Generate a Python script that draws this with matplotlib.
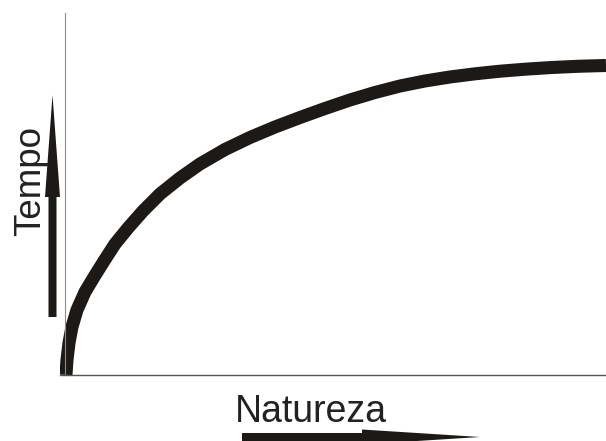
import numpy as np
import matplotlib.pyplot as plt
from matplotlib.patches import FancyArrow

plt.rcParams['font.family'] = ['Liberation Sans', 'DejaVu Sans']

# curve (natureza on x, tempo on y, 0-100 scale)
natureza = [0.18, 0.37, 0.74, 1.29, 2.22, 3.70, 5.36, 7.21, 9.24, 11.65,
            14.42, 17.56, 21.26, 24.95, 29.57, 34.20, 38.82, 43.44, 48.06,
            52.68, 57.30, 61.92, 66.54, 71.16, 75.79, 80.41, 85.03, 89.65,
            94.82, 100.0]
tempo = [0.0, 4.14, 8.84, 13.26, 17.96, 22.93, 27.07, 31.49, 36.19, 40.61,
         45.30, 50.0, 54.42, 58.29, 62.29, 65.61, 68.51, 71.13, 73.62,
         75.97, 78.04, 79.83, 81.22, 82.32, 83.20, 83.92, 84.47, 84.92,
         85.28, 85.50]
x_label = 'Natureza'
y_label = 'Tempo'

W, H = 606, 441
fig = plt.figure(figsize=(W / 100, H / 100), dpi=100)

# overlay in pixel units for labels and arrows
over = fig.add_axes([0, 0, 1, 1])
over.set_xlim(0, W)
over.set_ylim(H, 0)
over.axis('off')

ax = fig.add_axes([60 / W, (H - 375) / H, 546 / W, 362 / H])
ax.patch.set_alpha(0)
ax.set_xlim(-0.92, 100)
ax.set_ylim(0, 100)
ax.plot(natureza, tempo, color='#1c1917', lw=9.4,
        solid_capstyle='butt', solid_joinstyle='round')
ax.spines['top'].set_visible(False)
ax.spines['right'].set_visible(False)
ax.spines['left'].set_position(('data', 0))
ax.spines['left'].set_color('#8c8c8c')
ax.spines['left'].set_linewidth(0.8)
ax.spines['bottom'].set_color('#555555')
ax.spines['bottom'].set_linewidth(1.0)
ax.set_xticks([])
ax.set_yticks([])

ink = '#1c1917'
over.add_patch(FancyArrow(52.5, 317, 0, -222, width=8, head_width=15,
                          head_length=102, length_includes_head=True,
                          color=ink, lw=0))
over.add_patch(FancyArrow(242, 437, 238, 0, width=8, head_width=15,
                          head_length=118, length_includes_head=True,
                          color=ink, lw=0))

over.text(40, 181, y_label, rotation=90, rotation_mode='anchor',
          ha='center', va='baseline', fontsize=26.5, color='#222222')
over.text(235, 422, x_label, ha='left', va='baseline',
          fontsize=27, color='#222222')

fig.savefig('out.png', dpi=100)
